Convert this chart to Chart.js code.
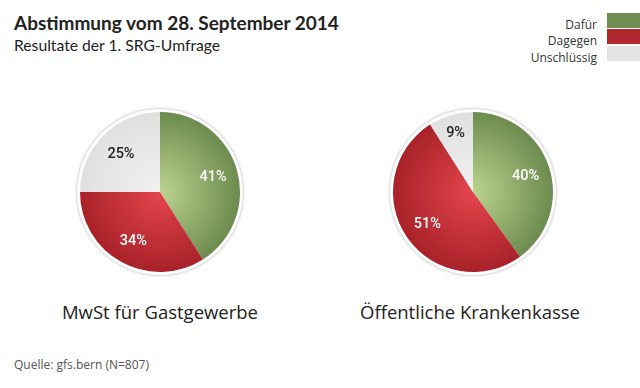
<!DOCTYPE html>
<html><head><meta charset="utf-8">
<script src="https://cdn.jsdelivr.net/npm/chart.js@4.4.1/dist/chart.umd.min.js"></script>
<style>
html,body{margin:0;padding:0;background:#fff;width:640px;height:388px;overflow:hidden;position:relative;}
.t{position:absolute;white-space:nowrap;color:#222;}
#title{left:14px;top:11px;font:bold 19px Lato,"Open Sans",sans-serif;}
#sub{left:14px;top:36px;font:15.7px Lato,"Open Sans",sans-serif;}
.lg{position:absolute;right:43px;font:12px "Open Sans",sans-serif;color:#333;text-align:right;}
.sw{position:absolute;left:607px;width:33px;height:15px;}
.cap{position:absolute;font:18.5px "Open Sans",sans-serif;color:#222;text-align:center;width:320px;}
#src{left:14px;top:356px;font:12px "Open Sans",sans-serif;color:#555;}
canvas{position:absolute;}
</style></head><body>
<div class="t" id="title">Abstimmung vom 28. September 2014</div>
<div class="t" id="sub">Resultate der 1. SRG-Umfrage</div>
<div id="legend"></div>
<canvas id="c1" width="180" height="180" style="left:70px;top:102px"></canvas>
<canvas id="c2" width="180" height="180" style="left:383px;top:102px"></canvas>
<div class="cap" id="cap1" style="left:0px;top:299px"></div>
<div class="cap" id="cap2" style="left:310px;top:299px"></div>
<div class="t" id="src">Quelle: gfs.bern (N=807)</div>
<script>
const categories = ["Dafür", "Dagegen", "Unschlüssig"];
const chartTitles = ["MwSt für Gastgewerbe", "Öffentliche Krankenkasse"];
const mwstValues = [41, 34, 25];
const kasseValues = [40, 51, 9];

const swatch = ["#6f8f52", "#b0262d", "#e4e4e4"];
const gradInner = ["#bcd38e", "#e4454d", "#f1f1f1"];
const gradOuter = ["#6c8b4e", "#a92229", "#e0e0e0"];
const labelColor = ["#ffffff", "#ffffff", "#222222"];

// legend
const lg = document.getElementById('legend');
categories.forEach((c, i) => {
  const top = 13 + i * 16.3;
  const s = document.createElement('div');
  s.className = 'sw'; s.style.top = top + 'px'; s.style.background = swatch[i];
  lg.appendChild(s);
  const t = document.createElement('div');
  t.className = 'lg'; t.style.top = (top + 3) + 'px'; t.textContent = c;
  lg.appendChild(t);
});
document.getElementById('cap1').textContent = chartTitles[0];
document.getElementById('cap2').textContent = chartTitles[1];

const ringPlugin = {
  id: 'ring',
  beforeDatasetsDraw(chart) {
    const a = chart.getDatasetMeta(0).data[0];
    if (!a) return;
    const ctx = chart.ctx;
    ctx.save();
    ctx.shadowColor = 'rgba(0,0,0,0.35)';
    ctx.shadowBlur = 3;
    ctx.beginPath();
    ctx.arc(a.x, a.y, a.outerRadius + 3, 0, Math.PI * 2);
    ctx.fillStyle = '#fff';
    ctx.fill();
    ctx.restore();
  },
  afterDatasetsDraw(chart) {
    const meta = chart.getDatasetMeta(0);
    const ds = chart.data.datasets[0];
    const ctx = chart.ctx;
    ctx.save();
    ctx.font = '500 14.5px Roboto, sans-serif';
    ctx.textAlign = 'center';
    ctx.textBaseline = 'middle';
    meta.data.forEach((arc, i) => {
      const mid = (arc.startAngle + arc.endAngle) / 2;
      const span = arc.endAngle - arc.startAngle;
      const f = span < 0.8 ? 0.78 : 0.69;
      const r = arc.outerRadius * f;
      ctx.fillStyle = labelColor[i];
      ctx.fillText(ds.data[i] + '%', arc.x + Math.cos(mid) * r, arc.y + Math.sin(mid) * r + 1);
    });
    ctx.restore();
  }
};

function gradFill(context) {
  const i = context.dataIndex;
  const chart = context.chart;
  const ca = chart.chartArea;
  if (!ca || i === undefined) return swatch[i || 0];
  const cx = (ca.left + ca.right) / 2, cy = (ca.top + ca.bottom) / 2;
  const r = Math.min(ca.right - ca.left, ca.bottom - ca.top) / 2;
  const g = chart.ctx.createRadialGradient(cx, cy, 0, cx, cy, r);
  g.addColorStop(0, gradInner[i]);
  g.addColorStop(1, gradOuter[i]);
  return g;
}

function makePie(id, values) {
  new Chart(document.getElementById(id), {
    type: 'pie',
    data: {
      labels: categories,
      datasets: [{
        data: values,
        backgroundColor: gradFill,
        borderWidth: 0
      }]
    },
    options: {
      responsive: false,
      animation: false,
      devicePixelRatio: 1,
      layout: { padding: 10 },
      plugins: { legend: { display: false }, tooltip: { enabled: false } }
    },
    plugins: [ringPlugin]
  });
}
makePie('c1', mwstValues);
makePie('c2', kasseValues);
</script>
</body></html>
